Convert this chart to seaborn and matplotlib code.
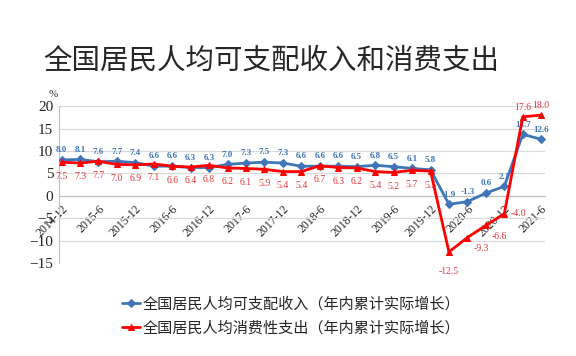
import matplotlib
matplotlib.use("Agg")
from matplotlib import pyplot as plt
import seaborn as sns
import pandas as pd

# quarterly periods (cumulative within year)
periods = ['2014-12', '2015-3', '2015-6', '2015-9', '2015-12', '2016-3', '2016-6', '2016-9',
           '2016-12', '2017-3', '2017-6', '2017-9', '2017-12', '2018-3', '2018-6', '2018-9',
           '2018-12', '2019-3', '2019-6', '2019-9', '2019-12', '2020-3', '2020-6', '2020-9',
           '2020-12', '2021-3', '2021-6']
income = [8.0, 8.1, 7.6, 7.7, 7.4, 6.6, 6.6, 6.3, 6.3, 7.0, 7.3, 7.5, 7.3, 6.6, 6.6, 6.6,
          6.5, 6.8, 6.5, 6.1, 5.8, -1.9, -1.3, 0.6, 2.1, 13.7, 12.6]
consumption = [7.5, 7.3, 7.7, 7.0, 6.9, 7.1, 6.6, 6.4, 6.8, 6.2, 6.1, 5.9, 5.4, 5.4, 6.7, 6.3,
               6.2, 5.4, 5.2, 5.7, 5.5, -12.5, -9.3, -6.6, -4.0, 17.6, 18.0]

income_name = '全国居民人均可支配收入（年内累计实际增长）'
cons_name = '全国居民人均消费性支出（年内累计实际增长）'

df = pd.DataFrame({'pos': list(range(len(periods))), 'income': income, 'consumption': consumption})

sns.set_style('white')
plt.rcParams['font.family'] = ['Noto Sans CJK SC', 'DejaVu Sans']

blue = '#3F76B9'
red = '#FF0000'
serif = ['Liberation Serif', 'DejaVu Serif']

fig = plt.figure(figsize=(5.76, 3.56), dpi=100)
ax = fig.add_axes([0.102, 0.261, 0.844, 0.441])

sns.lineplot(data=df, x='pos', y='income', ax=ax, color=blue, lw=2, marker='D', markersize=4,
             markeredgecolor=blue, label=income_name, sort=False, zorder=3)
sns.lineplot(data=df, x='pos', y='consumption', ax=ax, color=red, lw=2, marker='^', markersize=5,
             markeredgecolor=red, label=cons_name, sort=False, zorder=4)

ax.set_ylim(-15, 20)
ax.set_xlim(-0.15, 26.2)
ax.set_yticks(range(-15, 21, 5))
ax.yaxis.grid(True, color='#d9d9d9', lw=0.8)
ax.set_axisbelow(True)
for s in ['top', 'right']:
    ax.spines[s].set_visible(False)
ax.spines['bottom'].set_position(('data', 0))
ax.spines['bottom'].set_color('#bfbfbf')
ax.spines['left'].set_color('#bfbfbf')

ax.set_xticks(range(0, len(periods), 2))
ax.set_xticklabels(periods[::2], rotation=45, ha='right', va='top', rotation_mode='anchor',
                   family=serif, fontsize=8.5)
ax.tick_params(axis='x', length=4, color='#bfbfbf', pad=1)
ax.tick_params(axis='y', length=0, labelsize=11, pad=4)
for t in ax.get_yticklabels():
    t.set_family(serif)
ax.set_xlabel('')
ax.set_ylabel('')
ax.text(-0.02, 1.06, '%', transform=ax.transAxes, fontsize=8, family=serif)

# data labels
red_off = {21: (0, -14), 22: (10, -8), 23: (10, -8), 24: (10, 0), 25: (0, 7), 26: (0, 7)}
for i, (a, b) in enumerate(zip(income, consumption)):
    ax.annotate(f'{a:.1f}', (i, a), xytext=(0, 7), textcoords='offset points', ha='center',
                va='center', fontsize=6.5, color=blue, fontweight='bold', family=serif)
    dx, dy = red_off.get(i, (0, -10))
    ax.annotate(f'{b:.1f}', (i, b), xytext=(dx, dy), textcoords='offset points', ha='center',
                va='center', fontsize=7, color='#E8343A', family=serif)

fig.text(0.471, 0.83, '全国居民人均可支配收入和消费支出', fontsize=20.5, ha='center', va='center')
ax.legend(loc='upper center', bbox_to_anchor=(0.478, -0.14), frameon=False, fontsize=10.9,
          handlelength=1.2, handletextpad=0.2, labelspacing=0.45, borderpad=0.2)

fig.savefig('out.png', dpi=100)
